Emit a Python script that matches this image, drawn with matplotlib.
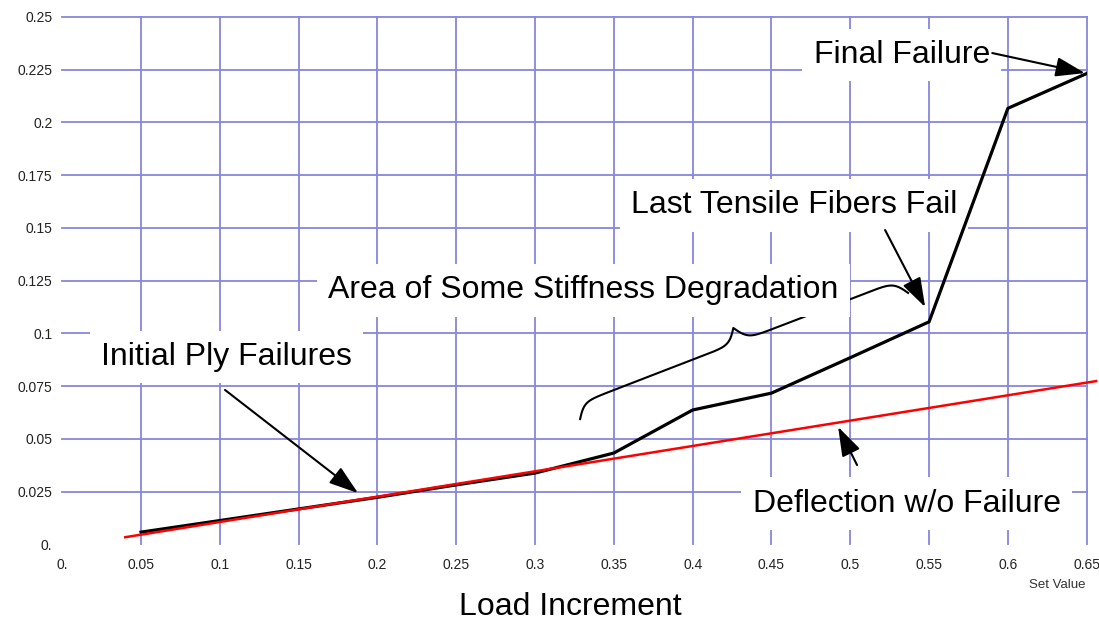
import numpy as np
import matplotlib.pyplot as plt

# load increment vs. deflection
load = [0.05, 0.1, 0.15, 0.2, 0.25, 0.3, 0.35, 0.4, 0.45, 0.5, 0.55, 0.6, 0.65]
deflection = [0.0058, 0.0113, 0.0168, 0.0223, 0.0282, 0.0338, 0.0433, 0.0637, 0.0717,
              0.0885, 0.1055, 0.2067, 0.2232]

# linear (no failure) reference line
linear_load = [0.04, 0.656]
linear_defl = [0.0034, 0.0774]

xticks = [0.0, 0.05, 0.1, 0.15, 0.2, 0.25, 0.3, 0.35, 0.4, 0.45, 0.5, 0.55, 0.6, 0.65]
xtick_labels = ['0.', '0.05', '0.1', '0.15', '0.2', '0.25', '0.3', '0.35', '0.4', '0.45',
                '0.5', '0.55', '0.6', '0.65']
yticks = [0.0, 0.025, 0.05, 0.075, 0.1, 0.125, 0.15, 0.175, 0.2, 0.225, 0.25]
ytick_labels = ['0.', '0.025', '0.05', '0.075', '0.1', '0.125', '0.15', '0.175', '0.2',
                '0.225', '0.25']

plt.rcParams['font.family'] = ['Liberation Sans', 'DejaVu Sans']

grid_color = '#8686dc'
box = dict(boxstyle='square,pad=0.35', fc='white', ec='none')
arrow = dict(arrowstyle='-|>,head_length=0.9,head_width=0.3', color='black', lw=1.5,
             mutation_scale=20, shrinkA=0, shrinkB=0)

fig = plt.figure(figsize=(10.99, 6.24), dpi=100)
ax = fig.add_axes([0.0566, 0.1276, 0.9322, 0.8452])
ax.set_xlim(0, 0.65)
ax.set_ylim(0, 0.25)
for s in ax.spines.values():
    s.set_visible(False)

ax.set_xticks(xticks, xtick_labels)
ax.set_yticks(yticks, ytick_labels)
ax.tick_params(length=0, labelsize=10, labelcolor='#222222')
ax.tick_params(axis='x', pad=9.5)
ax.tick_params(axis='y', pad=7)

# grid (no lines at zero)
for x in xticks[1:]:
    ax.axvline(x, color=grid_color, lw=1.3, zorder=1, clip_on=False)
for y in yticks[1:]:
    ax.axhline(y, color=grid_color, lw=1.3, zorder=1, clip_on=False)

ax.plot(load, deflection, color='black', lw=2.3, zorder=4)
ax.plot(linear_load, linear_defl, color='red', lw=1.8, zorder=4, clip_on=False)


def brace(ax, p0, p1, depth=30, beta=0.2):
    # curly brace drawn in pixel space, then mapped back to data coords
    a, b = ax.transData.transform([p0, p1])
    d = b - a
    L = np.hypot(*d)
    d = d / L
    n = np.array([-d[1], d[0]])
    u = np.linspace(0, L / 2, 300)
    half = 1 / (1 + np.exp(-beta * u)) + 1 / (1 + np.exp(-beta * (u - L / 2)))
    v = np.concatenate([half, half[-2::-1]])
    u = np.concatenate([u, L - u[-2::-1]])
    v = (v - 0.5) * depth
    pts = a + np.outer(u, d) + np.outer(v, n)
    pts = ax.transData.inverted().transform(pts)
    ax.plot(pts[:, 0], pts[:, 1], color='black', lw=1.5, zorder=2)


brace(ax, (0.3286, 0.0594), (0.5367, 0.1192))

# annotations
fs = 23
ax.text(0.5326, 0.2283, 'Final Failure', fontsize=fs, ha='center', va='baseline', bbox=box, zorder=3)
ax.text(0.4643, 0.1569, 'Last Tensile Fibers Fail', fontsize=fs, ha='center', va='baseline', bbox=box, zorder=3)
ax.text(0.3308, 0.1166, 'Area of Some Stiffness Degradation', fontsize=fs, ha='center', va='baseline', bbox=box, zorder=3)
ax.text(0.1040, 0.0850, 'Initial Ply Failures', fontsize=fs, ha='center', va='baseline', bbox=box, zorder=3)
ax.text(0.5357, 0.0155, 'Deflection w/o Failure', fontsize=fs, ha='center', va='baseline', bbox=box, zorder=3)

ax.annotate('', xy=(0.6489, 0.2234), xytext=(0.5901, 0.2329), arrowprops=arrow, zorder=5)
ax.annotate('', xy=(0.5475, 0.1125), xytext=(0.5221, 0.1490), arrowprops=arrow, zorder=5)
ax.annotate('', xy=(0.1877, 0.0243), xytext=(0.1033, 0.0732), arrowprops=arrow, zorder=5)
ax.annotate('', xy=(0.4923, 0.0557), xytext=(0.5043, 0.0376), arrowprops=arrow, zorder=5)

fig.text(0.5187, 0.0144, 'Load Increment', fontsize=fs, ha='center', va='baseline')
fig.text(0.988, 0.0577, 'Set Value', fontsize=9.5, color='#333333', ha='right', va='baseline')

fig.savefig('out.png', dpi=100)
